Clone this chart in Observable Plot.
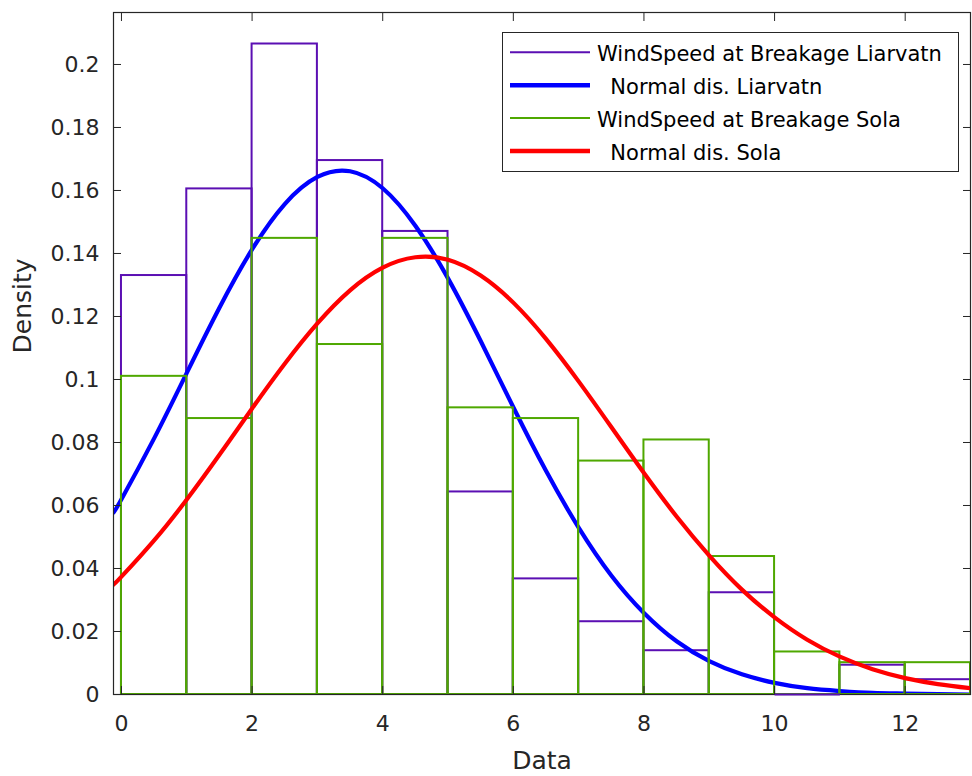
<!DOCTYPE html>
<html><head><meta charset="utf-8">
<script src="https://cdn.jsdelivr.net/npm/d3@7"></script>
<script src="https://cdn.jsdelivr.net/npm/@observablehq/plot@0.6"></script>
<style>
html,body{margin:0;padding:0;background:#fff;}
#wrap{position:relative;width:972px;height:776px;overflow:hidden;}
#legend{position:absolute;left:502px;top:32px;width:457px;height:140px;box-sizing:border-box;border:1px solid #262626;background:#fff;}
</style></head><body><div id="wrap"></div>
<script>
// Histogram bins (density, bin width 1)
const binEdges = [0,1,2,3,4,5,6,7,8,9,10,11,12,13];
const liarvatnDensity = [0.133, 0.1605, 0.2065, 0.1695, 0.147, 0.0643, 0.0367, 0.0231, 0.0139, 0.0323, 0, 0.0093, 0.0047];
const solaDensity = [0.101, 0.0876, 0.1448, 0.1111, 0.1448, 0.091, 0.0876, 0.0741, 0.0808, 0.0438, 0.0135, 0.0101, 0.0101];

// Fitted normal curves
const curveX = [-0.12, 0, 0.5, 1, 1.5, 2, 2.5, 3, 3.5, 4, 4.5, 5, 5.5, 6, 6.5, 7, 7.5, 8, 8.5, 9, 9.5, 10, 10.5, 11, 11.5, 12, 12.5, 13];
const liarvatnNormal = [0.0578, 0.0620, 0.0813, 0.1021, 0.1228, 0.1413, 0.1557, 0.1643, 0.1661, 0.1607, 0.1488, 0.1321, 0.1122, 0.0912, 0.0710, 0.0530, 0.0378, 0.0259, 0.0169, 0.0106, 0.0064, 0.0037, 0.0020, 0.0011, 0.0005, 0.0003, 0.0001, 0.0000];
const solaNormal = [0.0349, 0.0374, 0.0489, 0.0619, 0.0761, 0.0908, 0.1050, 0.1178, 0.1283, 0.1355, 0.1388, 0.1380, 0.1330, 0.1244, 0.1129, 0.0994, 0.0849, 0.0703, 0.0565, 0.0441, 0.0333, 0.0245, 0.0174, 0.0120, 0.0080, 0.0052, 0.0033, 0.0020];

const xTicks = [0, 2, 4, 6, 8, 10, 12];
const yTicks = [0, 0.02, 0.04, 0.06, 0.08, 0.1, 0.12, 0.14, 0.16, 0.18, 0.2];
const yTickLabels = ["0", "0.02", "0.04", "0.06", "0.08", "0.1", "0.12", "0.14", "0.16", "0.18", "0.2"];
const xLabel = "Data";
const yLabel = "Density";

const legendLabels = ["WindSpeed at Breakage Liarvatn", "  Normal dis. Liarvatn", "WindSpeed at Breakage Sola", "  Normal dis. Sola"];
const colPurple = "#5b0fb3", colBlue = "#0000ff", colGreen = "#4fa800", colRed = "#ff0000";
const legendColors = [colPurple, colBlue, colGreen, colRed];
const legendWidths = [2, 4.5, 2, 4.5];

const bins = liarvatnDensity.map((v, i) => ({x1: binEdges[i], x2: binEdges[i + 1], lia: v, sola: solaDensity[i]}));
const curves = curveX.map((x, i) => ({x, lia: liarvatnNormal[i], sola: solaNormal[i]}));
const axisColor = "#262626";

const chart = Plot.plot({
  width: 972,
  height: 776,
  marginLeft: 113,
  marginRight: 2,
  marginTop: 12,
  marginBottom: 82,
  x: {domain: [-0.122, 13]},
  y: {domain: [0, 0.2165]},
  style: {fontFamily: "DejaVu Sans", fontSize: "22px", color: axisColor, background: "white"},
  marks: [
    Plot.rect(bins, {x1: "x1", x2: "x2", y1: 0, y2: "lia", fill: "none", stroke: colPurple, strokeWidth: 2}),
    Plot.line(curves, {x: "x", y: "lia", stroke: colBlue, strokeWidth: 4.2, curve: "natural", clip: true}),
    Plot.rect(bins, {x1: "x1", x2: "x2", y1: 0, y2: "sola", fill: "none", stroke: colGreen, strokeWidth: 2}),
    Plot.line(curves, {x: "x", y: "sola", stroke: colRed, strokeWidth: 4.2, curve: "natural", clip: true}),
    Plot.frame({stroke: axisColor, strokeWidth: 1.2}),
    Plot.link(bins.filter(d => d.lia === 0), {x1: "x1", x2: "x2", y1: 0, y2: 0, stroke: colPurple, strokeWidth: 2}),
    Plot.axisX({anchor: "bottom", ticks: xTicks, tickSize: -8, tickPadding: 29, label: null, fontSize: 22}),
    Plot.axisX({anchor: "top", ticks: xTicks, tickSize: -8, tickFormat: () => "", label: null}),
    Plot.axisY({anchor: "left", ticks: yTicks, tickSize: -8, tickPadding: 22, label: null, fontSize: 22,
      tickFormat: d => yTickLabels[yTicks.indexOf(d)]}),
    Plot.axisY({anchor: "right", ticks: yTicks, tickSize: -8, tickFormat: () => "", label: null}),
    Plot.text([xLabel], {frameAnchor: "bottom", text: d => d, dy: 74, fontSize: 25, fill: axisColor}),
    Plot.text([yLabel], {frameAnchor: "left", text: d => d, rotate: -90, dx: -91, fontSize: 25, fill: axisColor})
  ]
});

const wrap = document.getElementById("wrap");
wrap.appendChild(chart);

// Legend box
const legend = document.createElement("div");
legend.id = "legend";
wrap.appendChild(legend);
const ls = d3.select(legend).append("svg").attr("width", 455).attr("height", 138)
  .style("display", "block")
  .style("font-family", "DejaVu Sans").style("font-size", "21px");
legendLabels.forEach((lab, i) => {
  const cy = 19.3 + i * 32.9;
  ls.append("line").attr("x1", 7).attr("x2", 87).attr("y1", cy).attr("y2", cy)
    .attr("stroke", legendColors[i]).attr("stroke-width", legendWidths[i]);
  ls.append("text").attr("x", 94).attr("y", cy + 9).attr("fill", "#000")
    .attr("xml:space", "preserve").style("white-space", "pre").text(lab);
});
</script>
</body></html>
